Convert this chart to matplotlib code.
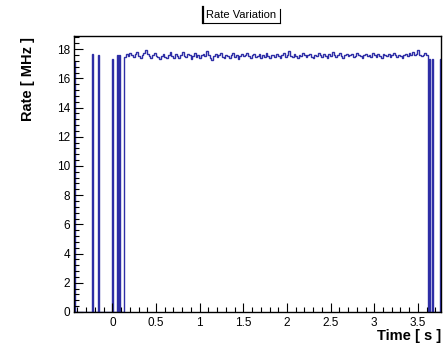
import numpy as np
import matplotlib
matplotlib.use("Agg")
import matplotlib.pyplot as plt
from matplotlib.ticker import MultipleLocator, FuncFormatter
from matplotlib.lines import Line2D

plt.rcParams['font.family'] = ['Liberation Sans', 'DejaVu Sans']

# ---- data ----
title = "Rate Variation"
xlabel = "Time [ s ]"
ylabel = "Rate [ MHz ]"

# isolated narrow bins (start time, value)
spike_t = [-0.44, -0.23, -0.16, 0.00, 0.05, 0.08, 3.63, 3.66, 3.75]
spike_v = [17.2, 17.7, 17.6, 17.3, 17.6, 17.6, 17.3, 17.3, 17.3]
spike_w = 0.01

# continuous region
cont_start = 0.135
cont_step = 0.02
cont_vals = [
    17.45, 17.68, 17.55, 17.72, 17.62, 17.48, 17.66, 17.78, 17.55, 17.42,
    17.63, 17.74, 17.95, 17.66, 17.50, 17.38, 17.62, 17.76, 17.56, 17.44,
    17.30, 17.55, 17.68, 17.47, 17.36, 17.58, 17.78, 17.52, 17.40, 17.64,
    17.52, 17.38, 17.62, 17.82, 17.55, 17.45, 17.68, 17.60, 17.34, 17.54,
    17.74, 17.48, 17.62, 17.42, 17.57, 17.70, 17.50, 17.90, 17.58, 17.38,
    17.28, 17.54, 17.66, 17.45, 17.60, 17.72, 17.48, 17.40, 17.63, 17.52,
    17.40, 17.61, 17.73, 17.46, 17.57, 17.33, 17.54, 17.66, 17.50, 17.62,
    17.76, 17.55, 17.42, 17.60, 17.70, 17.45, 17.54, 17.65, 17.38, 17.60,
    17.48, 17.73, 17.54, 17.40, 17.63, 17.58, 17.45, 17.68, 17.52, 17.36,
    17.61, 17.71, 17.48, 17.60, 17.86, 17.55, 17.45, 17.66, 17.54, 17.38,
    17.62, 17.50, 17.73, 17.60, 17.45, 17.58, 17.68, 17.48, 17.40, 17.62,
    17.54, 17.76, 17.58, 17.46, 17.66, 17.56, 17.42, 17.64, 17.52, 17.80,
    17.60, 17.48, 17.62, 17.73, 17.54, 17.40, 17.60, 17.70, 17.50, 17.58,
    17.66, 17.44, 17.56, 17.76, 17.62, 17.50, 17.38, 17.60, 17.68, 17.54,
    17.62, 17.48, 17.73, 17.58, 17.45, 17.64, 17.56, 17.42, 17.66, 17.60,
    17.52, 17.68, 17.46, 17.57, 17.72, 17.60, 17.48, 17.62, 17.54, 17.40,
    17.58, 17.66, 17.54, 17.76, 17.62, 17.80, 17.58, 17.66, 17.95, 17.62,
    17.54, 17.62, 17.72, 17.58,
]

x_range = (-0.44, 3.765)
y_range = (0, 18.9)

# ---- build step histogram ----
segs = []
for t, v in zip(spike_t, spike_v):
    segs.append((t, t + spike_w, v))
for i, v in enumerate(cont_vals):
    a = cont_start + i * cont_step
    segs.append((a, a + cont_step, v))
segs.sort()
edges = [segs[0][0]]
vals = []
for a, b, v in segs:
    if a > edges[-1] + 1e-9:
        vals.append(0.0)
        edges.append(a)
    vals.append(v)
    edges.append(b)

W, H = 443, 345
fig = plt.figure(figsize=(W / 100, H / 100), dpi=100)
ax = fig.add_axes([74 / W, 1 - 312 / H, (441 - 74) / W, (312 - 36) / H])

ax.stairs(vals, edges, baseline=0, color='#2e2ea6', lw=1.0)

ax.set_xlim(*x_range)
ax.set_ylim(*y_range)
ax.xaxis.set_major_locator(MultipleLocator(0.5))
ax.xaxis.set_minor_locator(MultipleLocator(0.1))
ax.yaxis.set_major_locator(MultipleLocator(2))
ax.yaxis.set_minor_locator(MultipleLocator(0.4))
ax.xaxis.set_major_formatter(FuncFormatter(lambda v, p: f"{v:g}"))
ax.yaxis.set_major_formatter(FuncFormatter(lambda v, p: f"{v:g}"))
ax.tick_params(which='both', direction='in', top=False, right=False, labelsize=8.5, width=0.8, color='black')
ax.tick_params(which='major', length=6.5)
ax.tick_params(which='minor', length=3.3)
ax.tick_params(axis='x', pad=3.5)
ax.tick_params(axis='y', pad=3)
for s in ax.spines.values():
    s.set_linewidth(1.0)
    s.set_color('black')

fig.text(28 / W, 1 - 37 / H, ylabel, rotation=90, ha='center', va='top',
         fontsize=10.5, fontweight='bold')
fig.text(441 / W, 1 - 336 / H, xlabel, ha='right', va='center',
         fontsize=10.5, fontweight='bold')

# title box
fig.text((203 + 280) / 2 / W, 1 - 15 / H, title, ha='center', va='center', fontsize=8)
x0, x1, y0, y1 = 203 / W, 280 / W, 1 - 7 / H, 1 - 23 / H
fig.add_artist(Line2D([x0, x0], [y0, y1], color='black', lw=1.6, transform=fig.transFigure))
fig.add_artist(Line2D([x0, x1], [y1, y1], color='black', lw=0.8, transform=fig.transFigure))
fig.add_artist(Line2D([x1, x1], [y1, y0 - 1.5 / H], color='black', lw=0.8, transform=fig.transFigure))

fig.savefig('out.png', dpi=100)
